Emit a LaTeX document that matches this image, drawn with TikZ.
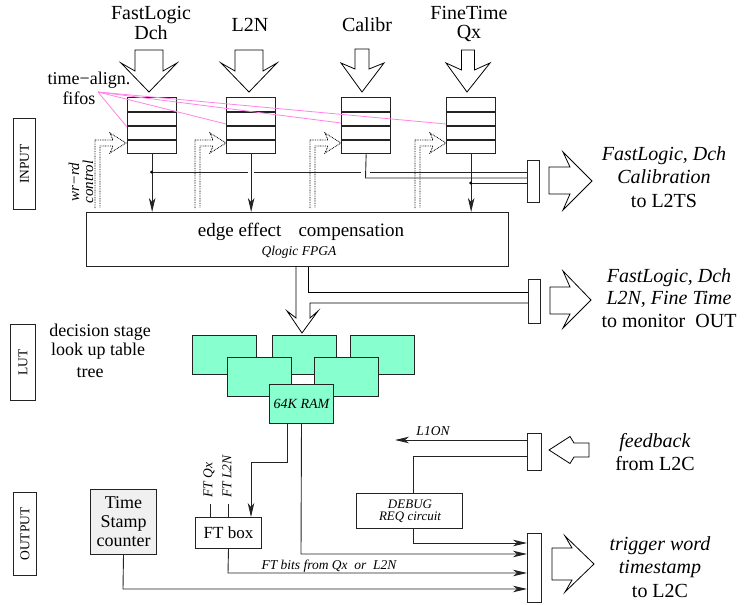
\documentclass[tikz,border=0pt]{standalone}
\usepackage{fontspec}
\setmainfont{Liberation Serif}
\usetikzlibrary{arrows.meta,calc}
\definecolor{lutgreen}{RGB}{136,255,206}
\definecolor{pinkline}{RGB}{255,130,230}
\definecolor{tsgray}{RGB}{240,240,240}
\definecolor{edgec}{RGB}{35,35,35}
\tikzset{
  box/.style={draw=edgec, line width=1pt, inner sep=0pt, anchor=north west},
  fifobox/.style={box, line width=1.3pt, minimum width=49pt, minimum height=56pt},
  lutbox/.style={box, fill=lutgreen, minimum width=64pt, minimum height=39pt},
  wire/.style={draw=edgec, line width=0.9pt},
  arr/.style={wire, -{Stealth[length=14pt,width=6.5pt,inset=4pt]}},
  hollow/.style={draw=black, line width=0.8pt, line join=miter},
  ctrl/.style={draw=black, line width=0.8pt, dash pattern=on 0.8pt off 0.9pt},
  pinkl/.style={draw=pinkline, line width=0.8pt},
  jdot/.style={circle, fill=black, inner sep=0pt, minimum size=3pt},
  txbig/.style={font=\fontsize{20}{20}\selectfont, align=center, inner sep=0pt},
  txmid/.style={font=\fontsize{18}{19}\selectfont, align=center, inner sep=0pt},
  txsml/.style={font=\fontsize{13.5}{12}\selectfont\itshape, align=center, inner sep=0pt},
  txlab/.style={font=\fontsize{13.5}{13.5}\selectfont, inner sep=0pt, rotate=90},
}
\begin{document}
\begin{tikzpicture}[x=1pt,y=-1pt]
\useasboundingbox (0,0) rectangle (745,605);

% ---------- side labels ----------
\node[box, minimum width=22pt, minimum height=91pt] (inbox) at (13,118) {};
\node[txlab] (intx) at (inbox.center) {INPUT};
\node[box, minimum width=25pt, minimum height=76pt] (lutlab) at (10,324) {};
\node[txlab] (luttx) at (lutlab.center) {LUT};
\node[box, minimum width=23pt, minimum height=83pt] (outbox) at (13,492) {};
\node[txlab] (outtx) at (outbox.center) {OUTPUT};

% ---------- top labels ----------
\node[txbig] (tFL) at (151,23) {FastLogic\\Dch};
\node[txbig] (tL2N) at (250,25) {L2N};
\node[txbig] (tCal) at (367,25) {Calibr};
\node[txbig, font=\fontsize{20}{18.5}\selectfont] (tFT) at (469,24) {FineTime\\Qx};

% ---------- input hollow arrows ----------
\draw[hollow, shift={(149,50)}] (-14,0) -- (14,0) -- (14,21) -- (28,13) -- (0,42) -- (-28,13) -- (-14,21) -- cycle;
\draw[hollow, shift={(249,50)}] (-14,0) -- (14,0) -- (14,21) -- (28,13) -- (0,42) -- (-28,13) -- (-14,21) -- cycle;
\draw[hollow, shift={(362,49)}] (-7,0) -- (7,0) -- (7,20) -- (22,14) -- (0,43) -- (-21,14) -- (-7,20) -- cycle;
\draw[hollow, shift={(468,50)}] (-6.5,0) -- (6.5,0) -- (6.5,20) -- (22,13) -- (-1,42) -- (-22,13) -- (-6.5,20) -- cycle;

% ---------- fifos ----------
\node[fifobox] (f1) at (127,97) {};
\node[fifobox] (f2) at (226,97) {};
\node[fifobox] (f3) at (341,97) {};
\node[fifobox] (f4) at (446,97) {};
\foreach \f in {f1,f2,f3,f4}{
  \foreach \d in {15,29,43}{
    \draw[draw=edgec, line width=1.3pt] ([yshift=-\d pt]\f.north west) -- ([yshift=-\d pt]\f.north east);
  }
}

% ---------- time-align label & pink lines ----------
\node[txmid] (tal) at (89,80) {time−align.};
\node[txmid] (tfi) at (79,98) {fifos};
\coordinate (ta) at (98,92);
\draw[pinkl] (ta) -- ([yshift=-30pt]f1.north west);
\draw[pinkl] (ta) -- ([yshift=-27pt]f2.north west);
\draw[pinkl] (ta) -- ([yshift=-26pt]f3.north west);
\draw[pinkl] (ta) -- ([yshift=-27pt]f4.north west);

% ---------- wr-rd control dotted arrows ----------
\foreach \t in {126,226,341,446}{
  \draw[ctrl] (\t-31,208) -- (\t-31,140) -- (\t-13,140) -- (\t-16,133) -- (\t,143) -- (\t-16,153) -- (\t-13,146) -- (\t-26,146) -- (\t-26,208);
}
\node[txsml, font=\fontsize{15}{14}\selectfont\itshape, rotate=90] (wr) at (81,182) {wr−rd\\control};

% ---------- FPGA ----------
\node[box, minimum width=422pt, minimum height=54pt] (fpga) at (86,212) {};
\node[txbig, font=\fontsize{19}{19}\selectfont] (fpt1) at (301,232) {edge effect\hspace{0.9em}compensation};
\node[txsml] (fpt2) at (299,252) {Qlogic FPGA};

% ---------- fifo outputs ----------
\draw[arr] (f1.south) -- (f1.south |- fpga.north);
\draw[arr] (f2.south) -- (f2.south |- fpga.north);
\draw[arr] (f4.south) -- (f4.south |- fpga.north);
\coordinate (j1) at (151.5,172);
\coordinate (j3) at (365.5,178);
\coordinate (j4) at (470.5,183);

% connector 1
\node[box, minimum width=12pt, minimum height=42pt] (c1) at (527,160) {};
\draw[wire] (j1) -- (247.5,172) (253.5,172) -- (361,172) (370,172) -- (c1.west |- j1);
\draw[wire] (f3.south) -- (j3) -- (c1.west |- j3);
\draw[wire] (j4) -- (c1.west |- j4);
\node[jdot] (dj1) at (j1) {};
\node[jdot] (dj4) at (j4) {};
\draw[hollow] (549,167) -- (570,167) -- (563,152) -- (592,181) -- (563,210) -- (570,194) -- (549,194) -- cycle;
\node[txbig, font=\fontsize{20}{23.5}\selectfont] (lab1) at (664,177) {\textit{FastLogic, Dch}\\\textit{Calibration}\\to L2TS};

% ---------- FPGA output ----------
\node[box, minimum width=12pt, minimum height=44pt] (c2) at (528,279) {};
\coordinate (m1) at (310,303);
\coordinate (m2) at (308,292);
\draw[hollow] (296,266) -- (296,318) -- (287,311) -- (302,333) -- (318,311) -- (310,318) -- (m1) -- (c2.west |- m1);
\draw[hollow] (m2 |- fpga.south) -- (m2) -- (c2.west |- m2);
\draw[hollow] (550,287) -- (570,287) -- (563,271) -- (591,300) -- (563,328) -- (570,314) -- (550,314) -- cycle;
\node[txbig, font=\fontsize{20}{22.5}\selectfont] (lab2) at (669,298) {\textit{FastLogic, Dch}\\\textit{L2N, Fine Time}\\to monitor\ \ OUT};

% ---------- LUT ----------
\node[txmid] (lt1) at (100,332) {decision stage};
\node[txmid] (lt2) at (98,351) {look up table};
\node[txmid] (lt3) at (90,373) {tree};
\node[lutbox] (l1) at (192,335) {};
\node[lutbox] (l2) at (272,335) {};
\node[lutbox] (l3) at (350,335) {};
\node[lutbox] (l4) at (227,357) {};
\node[lutbox] (l5) at (314,357) {};
\node[lutbox, font=\fontsize{14}{14}\selectfont\itshape] (ram) at (269,384) {64K RAM};

% ---------- output section ----------
\node[box, minimum width=14pt, minimum height=69pt] (c3) at (527,533) {};
\node[box, minimum width=14pt, minimum height=37pt] (c4) at (527,433) {};
\node[box, minimum width=66pt, minimum height=31pt, font=\fontsize{17}{17}\selectfont] (ftbox) at (195,517) {FT box};
\node[box, fill=tsgray, minimum width=66pt, minimum height=65pt] (ts) at (90,489) {};
\node[txmid] (tstx) at (ts.center) {Time\\Stamp\\counter};
\node[box, minimum width=106pt, minimum height=35pt] (dbg) at (356,493) {};
\node[txsml, font=\fontsize{13}{12.5}\selectfont\itshape] (dbgtx) at (410,511) {DEBUG\\REQ circuit};

\coordinate (r1) at (251,462);
\draw[arr] ([xshift=-14pt]ram.south) |- (r1) -- (r1 |- ftbox.north);
\coordinate (r2) at (301,554);
\draw[arr] (ram.south) -- (r2) -- (c3.west |- r2);

\coordinate (tq) at (210,504);
\coordinate (tl) at (228,504);
\draw[wire] (tq) -- (tq |- ftbox.north);
\draw[wire] (tl) -- (tl |- ftbox.north);
\node[txsml, rotate=90, anchor=west] (tqx) at (209,498) {FT Qx};
\node[txsml, rotate=90, anchor=west] (tln) at (227,498) {FT L2N};

\coordinate (fb1) at (228,573);
\draw[arr] (ftbox.south) -- (fb1) -- (c3.west |- fb1);
\node[txsml] (ftbits) at (329,566) {FT bits from Qx\ \ or\ \ L2N};

\coordinate (tb) at (123,589);
\draw[arr] (ts.south) -- (tb) -- (c3.west |- tb);

\coordinate (d1) at (413,456);
\draw[wire] (c4.west |- d1) -- (d1) -- (d1 |- dbg.north);
\coordinate (d2) at (413,543);
\draw[arr] (d2 |- dbg.south) -- (d2) -- (c3.west |- d2);

\coordinate (l1on) at (395,440);
\draw[arr] (c4.west |- l1on) -- (l1on);
\node[txsml] (l1ontx) at (433,431) {L1ON};

\draw[hollow] (589,443) -- (574,443) -- (570,436.5) -- (549,450) -- (570,463.5) -- (574,457) -- (589,457) -- cycle;
\node[txbig, font=\fontsize{20}{23}\selectfont] (lab4) at (655,452) {\textit{feedback}\\from L2C};

\draw[hollow] (552,548) -- (572,548) -- (565,536) -- (594,564) -- (565,592) -- (572,580) -- (552,580) -- cycle;
\node[txbig, font=\fontsize{20}{23.5}\selectfont] (lab3) at (660,567) {\textit{trigger word}\\\textit{timestamp}\\to L2C};
\end{tikzpicture}
\end{document}
